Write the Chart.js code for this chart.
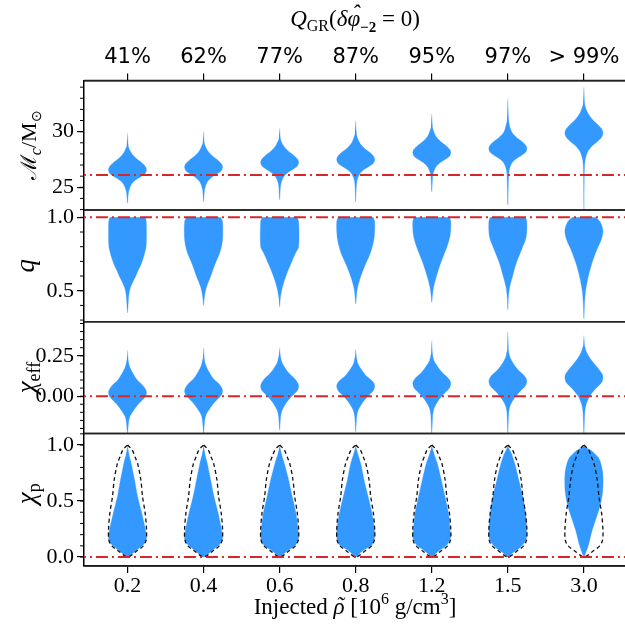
<!DOCTYPE html>
<html><head><meta charset="utf-8">
<script src="https://cdn.jsdelivr.net/npm/chart.js@4/dist/chart.umd.min.js"></script>
<style>html,body{margin:0;padding:0;background:#fff;overflow:hidden}</style>
</head><body>
<canvas id="c" width="625" height="628"></canvas>
<script>
// ---------- data ----------
const categories = ['0.2','0.4','0.6','0.8','1.2','1.5','3.0'];
const topLabels = ['41%','62%','77%','87%','95%','97%','> 99%'];

// reference (injected) values
const chirpMassInjected = 26.1;
const massRatioInjected = 1.0;
const chiEffInjected = 0.0;
const chiPInjected = 0.0;

// violin outlines: [value, relative half-width] from top to bottom
const chirpMassViolins = [
  [[29.86,0],[28.65,0.05],[28.1,0.2],[27.6,0.45],[27.2,0.75],[26.85,0.95],[26.56,1],[26.25,0.93],[25.95,0.7],[25.65,0.42],[25.25,0.2],[24.6,0.06],[23.57,0]],
  [[30.0,0],[28.9,0.05],[28.34,0.2],[27.84,0.45],[27.44,0.75],[27.09,0.95],[26.8,1],[26.49,0.93],[26.19,0.7],[25.89,0.42],[25.49,0.2],[24.84,0.06],[23.7,0]],
  [[30.3,0],[29.3,0.05],[28.76,0.2],[28.26,0.45],[27.86,0.75],[27.51,0.95],[27.22,1],[26.91,0.93],[26.61,0.7],[26.31,0.42],[25.91,0.2],[25.26,0.06],[23.9,0]],
  [[31.0,0],[29.7,0.05],[29.02,0.2],[28.52,0.45],[28.12,0.75],[27.77,0.95],[27.48,1],[27.17,0.93],[26.87,0.7],[26.57,0.42],[26.17,0.2],[25.52,0.06],[23.7,0]],
  [[31.6,0],[30.3,0.05],[29.64,0.2],[29.14,0.45],[28.74,0.75],[28.39,0.95],[28.1,1],[27.79,0.93],[27.49,0.7],[27.19,0.42],[26.79,0.2],[26.14,0.06],[24.6,0]],
  [[33.0,0],[30.9,0.05],[30.0,0.2],[29.5,0.45],[29.1,0.75],[28.75,0.95],[28.45,1],[28.14,0.93],[27.84,0.7],[27.54,0.42],[27.14,0.2],[26.4,0.06],[23.4,0]],
  [[34.0,0],[32.4,0.05],[31.7,0.2],[31.1,0.45],[30.6,0.75],[30.2,0.95],[29.86,1],[29.5,0.93],[29.1,0.7],[28.7,0.42],[28.2,0.2],[27.4,0.06],[26.0,0.02],[23.0,0]]
];
const massRatioViolins = [
  [[1.0,0.93],[0.98,0.98],[0.9,1.0],[0.8,0.98],[0.766,0.92],[0.72,0.82],[0.675,0.7],[0.63,0.53],[0.595,0.42],[0.56,0.28],[0.516,0.14],[0.47,0.07],[0.42,0.04],[0.35,0]],
  [[1.0,0.9],[0.97,1.0],[0.85,1.0],[0.77,0.88],[0.68,0.6],[0.6,0.38],[0.52,0.14],[0.45,0.04],[0.40,0]],
  [[1.0,0.92],[0.97,1.0],[0.80,1.0],[0.76,0.85],[0.68,0.58],[0.6,0.33],[0.52,0.14],[0.45,0.04],[0.39,0]],
  [[1.0,0.92],[0.97,1.0],[0.86,0.97],[0.76,0.78],[0.67,0.48],[0.58,0.22],[0.51,0.08],[0.45,0.03],[0.41,0]],
  [[1.0,0.93],[0.97,1.0],[0.88,0.97],[0.80,0.8],[0.7,0.5],[0.6,0.25],[0.52,0.09],[0.46,0.03],[0.42,0]],
  [[1.0,0.93],[0.97,1.0],[0.87,0.97],[0.79,0.75],[0.69,0.45],[0.6,0.25],[0.52,0.09],[0.45,0.03],[0.37,0]],
  [[1.0,0.6],[0.97,0.85],[0.91,1.0],[0.85,0.92],[0.76,0.62],[0.67,0.38],[0.58,0.2],[0.49,0.08],[0.40,0.03],[0.31,0]]
];
const chiEffViolins = [
  [[0.285,0],[0.22,0.04],[0.18,0.12],[0.14,0.29],[0.1,0.51],[0.065,0.82],[0.04,0.96],[0.02,1.0],[-0.005,0.93],[-0.045,0.6],[-0.087,0.33],[-0.128,0.12],[-0.17,0.05],[-0.23,0]],
  [[0.3,0],[0.23,0.04],[0.19,0.12],[0.15,0.29],[0.11,0.51],[0.075,0.82],[0.05,0.96],[0.03,1.0],[0.005,0.93],[-0.035,0.6],[-0.077,0.33],[-0.118,0.12],[-0.16,0.05],[-0.23,0]],
  [[0.3,0],[0.25,0.04],[0.21,0.12],[0.175,0.29],[0.14,0.51],[0.105,0.82],[0.08,0.96],[0.06,1.0],[0.035,0.93],[-0.005,0.6],[-0.045,0.33],[-0.09,0.12],[-0.13,0.05],[-0.21,0]],
  [[0.29,0],[0.24,0.04],[0.2,0.12],[0.165,0.3],[0.13,0.52],[0.1,0.82],[0.08,0.96],[0.061,1.0],[0.035,0.93],[-0.005,0.6],[-0.045,0.33],[-0.09,0.12],[-0.13,0.05],[-0.22,0]],
  [[0.345,0],[0.26,0.04],[0.22,0.12],[0.185,0.3],[0.15,0.52],[0.117,0.82],[0.095,0.96],[0.078,1.0],[0.05,0.93],[0.01,0.6],[-0.03,0.33],[-0.075,0.12],[-0.12,0.05],[-0.23,0]],
  [[0.4,0],[0.28,0.04],[0.24,0.12],[0.2,0.3],[0.165,0.52],[0.132,0.82],[0.11,0.96],[0.093,1.0],[0.065,0.93],[0.025,0.6],[-0.015,0.33],[-0.06,0.12],[-0.1,0.05],[-0.23,0]],
  [[0.376,0],[0.31,0.04],[0.27,0.15],[0.23,0.35],[0.19,0.62],[0.155,0.86],[0.135,0.97],[0.114,1.0],[0.085,0.93],[0.045,0.6],[0.0,0.3],[-0.05,0.12],[-0.1,0.05],[-0.23,0]]
];
const chiPViolins = [
  [[0.99,0],[0.9,0.1],[0.84,0.19],[0.69,0.37],[0.54,0.53],[0.39,0.75],[0.24,0.95],[0.17,1.0],[0.12,0.88],[0.07,0.55],[0.03,0.25],[0.0,0]],
  [[0.99,0],[0.9,0.1],[0.84,0.19],[0.69,0.37],[0.54,0.55],[0.39,0.77],[0.24,0.95],[0.17,1.0],[0.12,0.88],[0.07,0.55],[0.03,0.25],[0.0,0]],
  [[0.99,0],[0.9,0.13],[0.84,0.24],[0.69,0.47],[0.54,0.66],[0.39,0.86],[0.24,0.97],[0.17,1.0],[0.11,0.85],[0.06,0.45],[0.03,0.22],[0.0,0]],
  [[0.99,0],[0.9,0.15],[0.83,0.27],[0.68,0.45],[0.53,0.67],[0.38,0.87],[0.23,1.0],[0.16,0.98],[0.107,0.85],[0.06,0.4],[0.03,0.2],[0.0,0]],
  [[0.99,0],[0.9,0.16],[0.83,0.3],[0.68,0.51],[0.53,0.71],[0.38,0.89],[0.23,0.97],[0.18,1.0],[0.11,0.8],[0.06,0.42],[0.03,0.2],[0.0,0]],
  [[0.99,0],[0.92,0.2],[0.83,0.37],[0.68,0.59],[0.53,0.8],[0.38,0.94],[0.23,1.0],[0.15,0.95],[0.078,0.6],[0.03,0.2],[0.0,0]],
  [[0.99,0],[0.97,0.2],[0.95,0.4],[0.89,0.75],[0.83,0.9],[0.74,1.0],[0.59,0.99],[0.47,0.87],[0.35,0.65],[0.23,0.42],[0.107,0.24],[0.04,0.1],[0.0,0]]
];
// prior outline (dashed), same for every injection
const chiPPriorOutline = [[1.0,0],[0.955,0.25],[0.896,0.39],[0.836,0.53],[0.69,0.7],[0.54,0.79],[0.39,0.93],[0.24,1.0],[0.15,0.98],[0.1,0.83],[0.05,0.45],[0.0,0]];

// y tick labels per panel
const chirpMassTicks = [25, 30];
const massRatioTicks = [0.5, 1.0];
const chiEffTicks = [0.0, 0.25];
const chiPTicks = [0.0, 0.5, 1.0];

// ---------- styling ----------
const SERIF = '"Liberation Serif","Times New Roman",serif';
const SANS = '"DejaVu Sans",sans-serif';
const BLUE = '#3399ff';
const RED = '#d62728';
const HALF = 0.25;

function outline(cat, profile, closed) {
  const right = profile.map(([v, w]) => ({x: cat + HALF * w, y: v}));
  let lp = profile.slice();
  if (lp[lp.length - 1][1] === 0) lp = lp.slice(0, -1);
  if (lp[0][1] === 0) lp = lp.slice(1);
  const left = lp.reverse().map(([v, w]) => ({x: cat - HALF * w, y: v}));
  const pts = right.concat(left);
  if (closed) pts.push({x: pts[0].x, y: pts[0].y});
  return pts;
}

const X_MIN = -0.572, X_MAX = 6.54;
const panels = [
  {id: 'y1', violins: chirpMassViolins, ref: chirpMassInjected},
  {id: 'y2', violins: massRatioViolins, ref: massRatioInjected},
  {id: 'y3', violins: chiEffViolins, ref: chiEffInjected},
  {id: 'y4', violins: chiPViolins, ref: chiPInjected}
];
const datasets = [];
panels.forEach(p => {
  p.violins.forEach((prof, i) => {
    datasets.push({data: outline(i, prof, false), yAxisID: p.id, xAxisID: 'x',
      fill: 'shape', backgroundColor: BLUE, borderColor: BLUE, borderWidth: 0.3,
      pointRadius: 0, tension: 0.3, order: 3});
  });
  datasets.push({data: [{x: X_MIN - 1, y: p.ref}, {x: X_MAX + 1, y: p.ref}], yAxisID: p.id, xAxisID: 'x',
    fill: false, borderColor: RED, borderWidth: 2, borderDash: [12, 4, 2, 4], pointRadius: 0, order: 1});
});
categories.forEach((c, i) => {
  datasets.push({data: outline(i, chiPPriorOutline, true), yAxisID: 'y4', xAxisID: 'x',
    fill: false, borderColor: '#111', borderWidth: 1.3, borderDash: [4, 3], pointRadius: 0, tension: 0.3, order: 2});
});

function yAxis(min, max, ticks, digits, weight, stackWeight) {
  return {
    type: 'linear', position: 'left', stack: 'panels', stackWeight: stackWeight, weight: weight,
    min: min, max: max,
    afterBuildTicks: s => { s.ticks = ticks.map(v => ({value: v})); },
    ticks: {callback: v => Number(v).toFixed(digits), font: {family: SERIF, size: 22}, color: '#000', padding: 3},
    grid: {drawOnChartArea: false, drawTicks: true, tickLength: 7, color: '#000', lineWidth: 1.2},
    border: {display: true, color: '#000', width: 1.5},
    afterFit: s => { s.width = 84; }
  };
}
const minorSteps = {y1: 1, y2: 0.1, y3: 0.05, y4: 0.1};

// parts: [text, font, dy, accent, accentRaise, accentShift]
function drawRich(ctx, parts, cx, cy, angle) {
  ctx.save();
  ctx.translate(cx, cy);
  ctx.rotate(angle || 0);
  ctx.textBaseline = 'alphabetic';
  ctx.fillStyle = '#000';
  let total = 0;
  for (const p of parts) { ctx.font = p[1]; total += ctx.measureText(p[0]).width; }
  let x = -total / 2;
  for (const p of parts) {
    ctx.font = p[1];
    ctx.textAlign = 'left';
    const w = ctx.measureText(p[0]).width;
    ctx.fillText(p[0], x, p[2] || 0);
    if (p[3]) {
      ctx.textAlign = 'center';
      ctx.fillText(p[3], x + w / 2 + (p[5] || 0), (p[2] || 0) - (p[4] || 0));
    }
    x += w;
  }
  ctx.restore();
}

const decor = {
  id: 'decor',
  afterDraw(chart) {
    const ctx = chart.ctx;
    const ca = chart.chartArea;
    ctx.save();
    ctx.strokeStyle = '#000';
    ctx.lineWidth = 1;
    for (const id of ['y1', 'y2', 'y3', 'y4']) {
      const s = chart.scales[id];
      const st = minorSteps[id];
      const start = Math.ceil(s.min / st - 1e-6);
      const end = Math.floor(s.max / st + 1e-6);
      for (let k = start; k <= end; k++) {
        const py = s.getPixelForValue(k * st);
        ctx.beginPath();
        ctx.moveTo(ca.left - 4, py);
        ctx.lineTo(ca.left, py);
        ctx.stroke();
      }
    }
    ctx.lineWidth = 1.5;
    ctx.strokeStyle = '#222';
    for (const id of ['y1', 'y2', 'y3', 'y4']) {
      const s = chart.scales[id];
      for (const py of [s.top, s.bottom]) {
        ctx.beginPath();
        ctx.moveTo(ca.left, py);
        ctx.lineTo(ca.right, py);
        ctx.stroke();
      }
    }
    ctx.restore();

    const fs = 23;
    drawRich(ctx, [
      ['Q', 'italic ' + fs + 'px ' + SERIF],
      ['GR', '16px ' + SERIF, 5],
      ['(', fs + 'px ' + SERIF],
      ['δ', 'italic ' + fs + 'px ' + SERIF],
      ['φ', 'italic ' + fs + 'px ' + SERIF, 0, 'ˆ', 5, 2],
      ['−2', 'bold 15px ' + SERIF, 6],
      [' = 0)', fs + 'px ' + SERIF]
    ], 355, 26);
    drawRich(ctx, [
      ['Injected ', fs + 'px ' + SERIF],
      ['ρ', 'italic ' + fs + 'px ' + SERIF, 0, '˜', 1, 1],
      [' [10', fs + 'px ' + SERIF],
      ['6', '16px ' + SERIF, -10],
      [' g/cm', fs + 'px ' + SERIF],
      ['3', '16px ' + SERIF, -10],
      [']', fs + 'px ' + SERIF]
    ], 355, 614);
    const ys = ['y1', 'y2', 'y3', 'y4'].map(id => chart.scales[id]);
    const mid = s => (s.top + s.bottom) / 2;
    drawRich(ctx, [
      ['ℳ', '22px ' + SERIF],
      ['c', 'italic 16px ' + SERIF, 5],
      ['/M', '22px ' + SERIF],
      ['⊙', '14px ' + SERIF, 5]
    ], 36, mid(ys[0]), -Math.PI / 2);
    drawRich(ctx, [['q', 'italic 27px ' + SERIF]], 34, mid(ys[1]), -Math.PI / 2);
    drawRich(ctx, [['χ', 'italic 27px ' + SERIF], ['eff', '18px ' + SERIF, 5]], 35, mid(ys[2]), -Math.PI / 2);
    drawRich(ctx, [['χ', 'italic 27px ' + SERIF], ['p', '18px ' + SERIF, 5]], 35, mid(ys[3]) - 6, -Math.PI / 2);
  }
};

new Chart(document.getElementById('c'), {
  type: 'line',
  data: {datasets: datasets},
  options: {
    responsive: false,
    animation: false,
    events: [],
    devicePixelRatio: 1,
    layout: {padding: 0},
    plugins: {legend: {display: false}, tooltip: {enabled: false}},
    scales: {
      x: {
        type: 'linear', position: 'bottom', min: X_MIN, max: X_MAX,
        afterBuildTicks: s => { s.ticks = categories.map((c, i) => ({value: i})); },
        ticks: {callback: v => categories[v], font: {family: SERIF, size: 22}, color: '#000', padding: 0, maxRotation: 0, autoSkip: false},
        grid: {drawOnChartArea: false, tickLength: 7, color: '#000', lineWidth: 1.2},
        border: {display: true, color: '#000', width: 1.5},
        afterFit: s => { s.height = 62; }
      },
      xTop: {
        type: 'linear', position: 'top', min: X_MIN, max: X_MAX,
        afterBuildTicks: s => { s.ticks = topLabels.map((c, i) => ({value: i})); },
        ticks: {callback: v => topLabels[v], font: {family: SANS, size: 21}, color: '#000', padding: 3, maxRotation: 0, autoSkip: false},
        grid: {drawOnChartArea: false, tickLength: 7, color: '#000', lineWidth: 1.2},
        border: {display: true, color: '#000', width: 1.5},
        afterFit: s => { s.height = 80.6; }
      },
      y1: yAxis(22.96, 34.59, chirpMassTicks, 0, 4, 129.4),
      y2: yAxis(0.289, 1.05, massRatioTicks, 1, 3, 111.7),
      y3: yAxis(-0.231, 0.461, chiEffTicks, 2, 2, 111.8),
      y4: yAxis(-0.08, 1.103, chiPTicks, 1, 1, 132.5)
    }
  },
  plugins: [decor]
});
</script>
</body></html>
